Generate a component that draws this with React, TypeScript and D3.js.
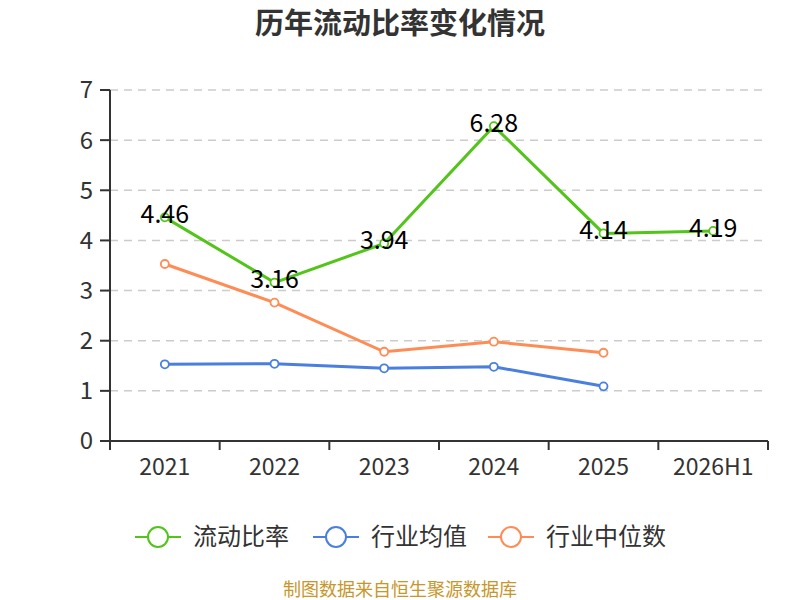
import React from 'react';
import * as d3 from 'd3';

const categories = ['2021', '2022', '2023', '2024', '2025', '2026H1'];
const currentRatio = [4.46, 3.16, 3.94, 6.28, 4.14, 4.19];
const industryMean = [1.53, 1.54, 1.45, 1.48, 1.09];
const industryMedian = [3.53, 2.76, 1.78, 1.98, 1.76];
const yTicks = [0, 1, 2, 3, 4, 5, 6, 7];

const W = 800;
const H = 600;
const MARGIN = { TOP: 90, BOTTOM: 159, LEFT: 110, RIGHT: 32 };
const FONT = '"Microsoft YaHei", "Noto Sans CJK SC", "Noto Sans", sans-serif';

const series = [
  { name: '流动比率', color: '#52c41a', values: currentRatio },
  { name: '行业均值', color: '#4a7fe0', values: industryMean },
  { name: '行业中位数', color: '#ff8c55', values: industryMedian },
];

export default function App(): JSX.Element {
  const x = d3
    .scaleBand<string>()
    .domain(categories)
    .range([MARGIN.LEFT, W - MARGIN.RIGHT]);
  const y = d3
    .scaleLinear()
    .domain([0, 7])
    .range([H - MARGIN.BOTTOM, MARGIN.TOP]);
  const cx = (c: string) => (x(c) || 0) + x.bandwidth() / 2;
  const line = d3
    .line<number>()
    .x((_, i) => cx(categories[i]))
    .y((d) => y(d));

  const legendX = [135, 313, 488];

  return (
    <svg
      width={W}
      height={H}
      style={{ position: 'absolute', left: 0, top: 0, background: '#fff' }}
      fontFamily={FONT}
    >
      <text x={400} y={24} dy="0.35em" textAnchor="middle" fontSize={29} fontWeight="bold" fill="#333">
        历年流动比率变化情况
      </text>

      {/* grid lines */}
      {yTicks.slice(1).map((t) => (
        <line
          key={t}
          x1={MARGIN.LEFT}
          x2={W - MARGIN.RIGHT}
          y1={y(t)}
          y2={y(t)}
          stroke="#ccc"
          strokeDasharray="8,6"
          strokeWidth={1.5}
        />
      ))}

      {/* y axis */}
      <line x1={MARGIN.LEFT} x2={MARGIN.LEFT} y1={y(0)} y2={y(7)} stroke="#333" strokeWidth={2} />
      {yTicks.map((t) => (
        <g key={t}>
          <line x1={MARGIN.LEFT - 10} x2={MARGIN.LEFT} y1={y(t)} y2={y(t)} stroke="#333" strokeWidth={2} />
          <text x={MARGIN.LEFT - 17} y={y(t)} dy="0.35em" textAnchor="end" fontSize={24} fill="#333">
            {t}
          </text>
        </g>
      ))}

      {/* x axis */}
      <line x1={MARGIN.LEFT} x2={W - MARGIN.RIGHT} y1={y(0)} y2={y(0)} stroke="#333" strokeWidth={2} />
      {[...categories.map((c) => x(c) || 0), W - MARGIN.RIGHT].map((p, i) => (
        <line key={i} x1={p} x2={p} y1={y(0)} y2={y(0) + 9} stroke="#333" strokeWidth={2} />
      ))}
      {categories.map((c) => (
        <text key={c} x={cx(c)} y={y(0) + 26} dy="0.35em" textAnchor="middle" fontSize={23} fill="#333">
          {c}
        </text>
      ))}

      {/* series */}
      {series.map((s) => (
        <g key={s.name}>
          <path d={line(s.values) || ''} fill="none" stroke={s.color} strokeWidth={3} />
          {s.values.map((v, i) => (
            <circle
              key={i}
              cx={cx(categories[i])}
              cy={y(v)}
              r={4}
              fill="#fff"
              stroke={s.color}
              strokeWidth={1.8}
            />
          ))}
        </g>
      ))}
      {currentRatio.map((v, i) => (
        <text
          key={i}
          x={cx(categories[i])}
          y={y(v) - 3}
          dy="0.35em"
          textAnchor="middle"
          fontSize={25}
          fill="#000"
        >
          {v.toFixed(2)}
        </text>
      ))}

      {/* legend */}
      {series.map((s, i) => (
        <g key={s.name} transform={`translate(${legendX[i]}, 537)`}>
          <line x1={0} x2={46} y1={0} y2={0} stroke={s.color} strokeWidth={2} />
          <circle cx={23} cy={0} r={10} fill="#fff" stroke={s.color} strokeWidth={2} />
          <text x={58} y={0} dy="0.35em" fontSize={24} fill="#333">
            {s.name}
          </text>
        </g>
      ))}

      <text x={400} y={590} dy="0.35em" textAnchor="middle" fontSize={18} fill="#c8962a">
        制图数据来自恒生聚源数据库
      </text>
    </svg>
  );
}
